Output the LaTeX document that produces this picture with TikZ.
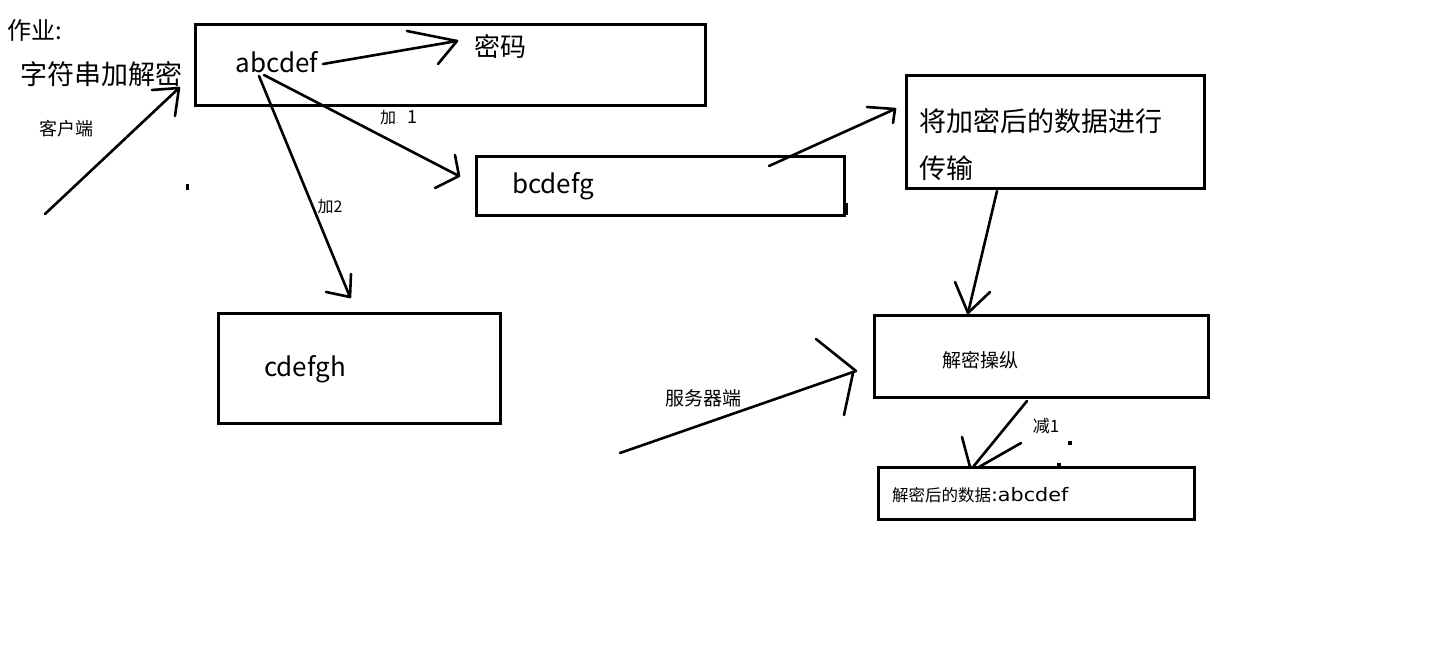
\documentclass[tikz,border=0pt]{standalone}
\usepackage{fontspec}
\setmainfont{Noto Sans CJK SC}
\newfontfamily\latinwide[FakeStretch=1.12]{DejaVu Sans}
\newcommand\myfs[1]{\fontsize{#1}{#1}\selectfont}
\begin{document}
\begin{tikzpicture}[x=1pt,y=-1pt,
  box/.style={draw,line width=3pt,inner sep=0pt,outer sep=0pt},
  arr/.style={line width=2.6pt,line cap=round,line join=round},
  txt/.style={inner sep=0pt,outer sep=0pt}]
\useasboundingbox[fill=white] (0,0) rectangle (1429,645);
% boxes
\node[box,minimum width=510pt,minimum height=81pt] (b1) at (450,64.5) {};
\node[box,minimum width=368pt,minimum height=59pt] (b2) at (660,185.5) {};
\node[box,minimum width=282pt,minimum height=110pt] (b3) at (359,368) {};
\node[box,minimum width=298pt,minimum height=113pt] (b4) at (1055,131.5) {};
\node[box,minimum width=334pt,minimum height=82pt] (b5) at (1041,356) {};
\node[box,minimum width=316pt,minimum height=52pt] (b6) at (1036,493) {};
% texts
\node[txt] (t1) at (35,30) {\myfs{24pt}作业:};
\node[txt] (t2) at (101,74) {\myfs{27pt}字符串加解密};
\node[txt] (t3) at (66,129) {\myfs{18pt}客户端};
\node[txt] (abc) at (277,62) {\myfs{26pt}abcdef};
\node[txt] (mm) at (500,46) {\myfs{26pt}密码};
\node[txt,anchor=west] (l1) at (380,118) {\myfs{16pt}加\textcolor{gray}{\myfs{8pt}.}\hspace{9pt}\myfs{18pt}1};
\node[txt] (l2) at (330,207) {\myfs{16pt}加2};
\node[txt] (bc) at (553,186) {\myfs{26pt}bcdefg};
\node[txt] (cd) at (305,369) {\myfs{26pt}cdefgh};
\node[txt,anchor=west] (tr1) at (919,121) {\myfs{27pt}将加密后的数据进行};
\node[txt,anchor=west] (tr2) at (919,168) {\myfs{27pt}传输};
\node[txt] (jm) at (980,360) {\myfs{19pt}解密操纵};
\node[txt] (fw) at (703,398) {\myfs{19pt}服务器端};
\node[txt] (j1) at (1046,426) {\myfs{17pt}减1};
\node[txt,anchor=west] (res) at (892,495) {\myfs{16.5pt}解密后的数据{\latinwide\myfs{18.5pt}:abcdef}};
% arrow coordinates
\coordinate (a1s) at (45,214); \coordinate (a1t) at (179,88);
\coordinate (a1h) at (152,90); \coordinate (a1k) at (175,116);
\coordinate (a2s) at (323,64); \coordinate (a2t) at (457,41);
\coordinate (a2h) at (407,31); \coordinate (a2k) at (438,64);
\coordinate (a3s) at (264,75); \coordinate (a3t) at (459,176);
\coordinate (a3h) at (455,155); \coordinate (a3k) at (435,188);
\coordinate (a4s) at (259,76); \coordinate (a4t) at (350,297);
\coordinate (a4h) at (351,274); \coordinate (a4k) at (326,292);
\coordinate (a5s) at (769,166); \coordinate (a5t) at (895,109);
\coordinate (a5h) at (867,107); \coordinate (a5k) at (893,123);
\coordinate (a6s) at (997,191); \coordinate (a6t) at (968,313);
\coordinate (a6h) at (955,282); \coordinate (a6k) at (990,292);
\coordinate (a7s) at (620,453); \coordinate (a7t) at (856,371);
\coordinate (a7h) at (816,339); \coordinate (a7k) at (844,415); \coordinate (a7u) at (853,373);
\coordinate (a8s) at (1027,401); \coordinate (a8t) at (973,467);
\coordinate (a8h) at (962,437); \coordinate (a8u) at (970,467);
\coordinate (a8k) at (1021,443); \coordinate (a8v) at (979,467);
% arrows
\draw[arr] (a1s) -- (a1t); \draw[arr] (a1h) -- (a1t) -- (a1k);
\draw[arr] (a2s) -- (a2t); \draw[arr] (a2h) -- (a2t) -- (a2k);
\draw[arr] (a3s) -- (a3t); \draw[arr] (a3h) -- (a3t) -- (a3k);
\draw[arr] (a4s) -- (a4t); \draw[arr] (a4h) -- (a4t) -- (a4k);
\draw[arr] (a5s) -- (a5t); \draw[arr] (a5h) -- (a5t) -- (a5k);
\draw[arr] (a6s) -- (a6t); \draw[arr] (a6h) -- (a6t) -- (a6k);
\draw[arr] (a7s) -- (a7t); \draw[arr] (a7h) -- (a7t); \draw[arr] (a7u) -- (a7k);
\draw[arr] (a8s) -- (a8t); \draw[arr] (a8h) -- (a8u); \draw[arr] (a8k) -- (a8v);
% stray marks
\fill (186,184) rectangle (189,190);
\draw[line width=2.6pt] (847,203) -- (847,215);
\fill (1068,441) rectangle (1072,445);
\fill (1057,463) rectangle (1061,466);
\end{tikzpicture}
\end{document}
